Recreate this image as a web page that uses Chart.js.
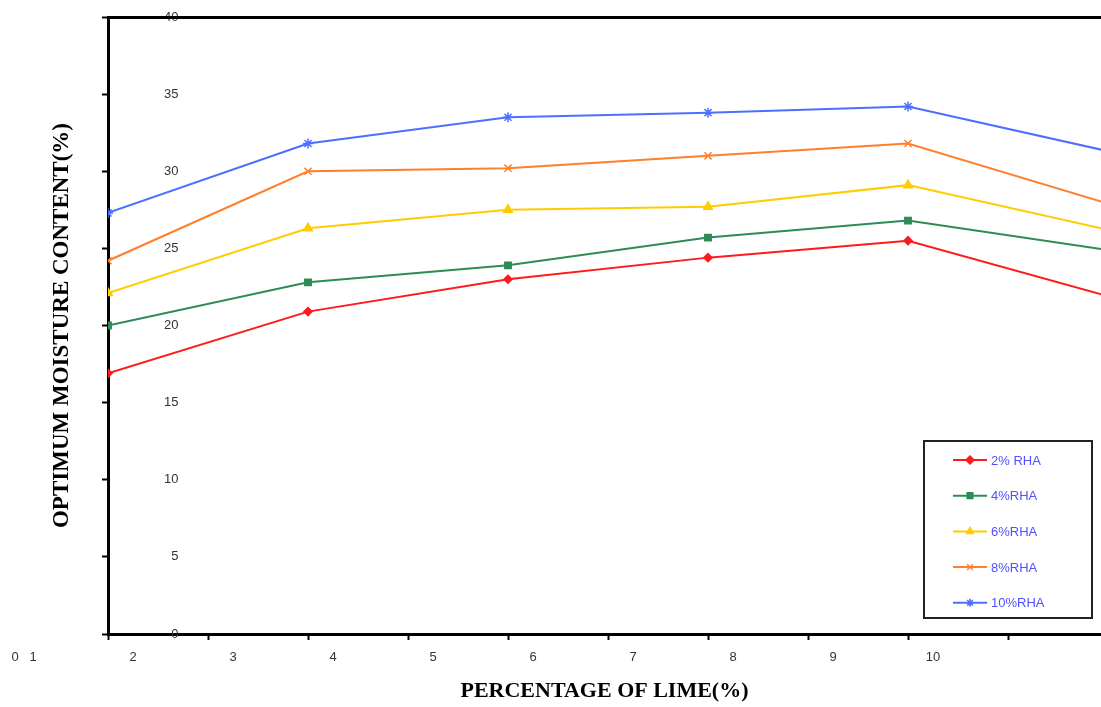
<!DOCTYPE html>
<html>
<head>
<meta charset="utf-8">
<title>Optimum moisture content vs percentage of lime</title>
<script src="https://cdn.jsdelivr.net/npm/chart.js@4.4.1/dist/chart.umd.min.js"></script>
<style>
  html, body { margin: 0; padding: 0; background: #fff; overflow: hidden; }
  canvas { display: block; }
</style>
</head>
<body>
<canvas id="omcChart" width="1101" height="707"></canvas>
<script>
// x positions of the measured points (lime content steps)
const limePct = [0, 2, 4, 6, 8, 10];
// tick labels as printed under the axis (shifted in the source figure)
const xTickLabels = ['2', '3', '4', '5', '6', '7', '8', '9', '10', ''];
const strayLabels = ['0', '1'];

// optimum moisture content (%) per rice husk ash dosage
const rha2 = [16.9, 20.9, 23.0, 24.4, 25.5, 21.9];
const rha4 = [20.0, 22.8, 23.9, 25.7, 26.8, 24.9];
const rha6 = [22.1, 26.3, 27.5, 27.7, 29.1, 26.2];
const rha8 = [24.2, 30.0, 30.2, 31.0, 31.8, 27.9];
const rha10 = [27.3, 31.8, 33.5, 33.8, 34.2, 31.3];
const seriesLabels = ['2% RHA', '4%RHA', '6%RHA', '8%RHA', '10%RHA'];

const SANS = '"Liberation Sans", Arial, sans-serif';
const SERIF = '"Liberation Serif", "Times New Roman", serif';
const TICK_COLOR = '#333';

Chart.defaults.font.family = SANS;

const seriesStyles = [
  { color: '#ff1a1a', pointStyle: 'rectRot', radius: 4 },
  { color: '#2e8b57', pointStyle: 'rect', radius: 4.5 },
  { color: '#ffcc00', pointStyle: 'triangle', radius: 5 },
  { color: '#ff7f2a', pointStyle: 'crossRot', radius: 5 },
  { color: '#4d6fff', pointStyle: 'star', radius: 5 },
];

const toPoints = (vals) => limePct.map((x, i) => ({ x, y: vals[i] }));

const datasets = [rha2, rha4, rha6, rha8, rha10].map((vals, i) => ({
  label: seriesLabels[i],
  data: toPoints(vals),
  borderColor: seriesStyles[i].color,
  backgroundColor: seriesStyles[i].color,
  borderWidth: 2,
  pointStyle: seriesStyles[i].pointStyle,
  pointRadius: seriesStyles[i].radius,
  pointBorderWidth: 1.5,
  pointBackgroundColor: seriesStyles[i].color,
  pointBorderColor: seriesStyles[i].color,
  tension: 0,
}));

// top frame line, the stray "0 1" labels and the boxed legend
const frameAndLegend = {
  id: 'frameAndLegend',
  afterDraw(chart) {
    const { ctx, chartArea: a } = chart;
    ctx.save();
    ctx.strokeStyle = '#000';
    ctx.lineWidth = 3;
    ctx.beginPath();
    ctx.moveTo(a.left, a.top + 0.5);
    ctx.lineTo(a.right, a.top + 0.5);
    ctx.stroke();

    ctx.fillStyle = TICK_COLOR;
    ctx.font = '13px ' + SANS;
    ctx.textAlign = 'center';
    ctx.textBaseline = 'middle';
    strayLabels.forEach((t, i) => ctx.fillText(t, 15 + i * 18, 657));

    const box = { x: 924, y: 441, w: 168, h: 177 };
    ctx.fillStyle = '#fff';
    ctx.fillRect(box.x, box.y, box.w, box.h);
    ctx.strokeStyle = '#222';
    ctx.lineWidth = 2;
    ctx.strokeRect(box.x, box.y, box.w, box.h);

    ctx.textAlign = 'left';
    chart.data.datasets.forEach((ds, i) => {
      const y = 460 + i * 35.7;
      ctx.strokeStyle = ds.borderColor;
      ctx.fillStyle = ds.borderColor;
      ctx.lineWidth = 2;
      ctx.beginPath();
      ctx.moveTo(953, y);
      ctx.lineTo(987, y);
      ctx.stroke();
      ctx.lineWidth = 1.5;
      Chart.helpers.drawPoint(ctx, {
        pointStyle: ds.pointStyle,
        radius: Math.min(ds.pointRadius, 4),
        borderWidth: 1.5,
        rotation: 0,
      }, 970, y);
      ctx.fillStyle = '#5050ff';
      ctx.font = '13px ' + SANS;
      ctx.fillText(ds.label, 991, y + 1);
    });
    ctx.restore();
  },
};

new Chart(document.getElementById('omcChart'), {
  type: 'line',
  data: { datasets },
  options: {
    responsive: false,
    animation: false,
    layout: { autoPadding: false, padding: { top: 17, left: 0, right: 0, bottom: 0 } },
    plugins: {
      legend: { display: false },
      tooltip: { enabled: false },
    },
    scales: {
      x: {
        type: 'linear',
        position: 'bottom',
        min: 0,
        max: 9.93,
        grid: { drawOnChartArea: false, tickLength: 6, tickWidth: 2, tickColor: '#000' },
        border: { color: '#000', width: 3 },
        ticks: {
          stepSize: 1,
          includeBounds: false,
          autoSkip: false,
          maxRotation: 0,
          labelOffset: 25,
          padding: 10,
          color: TICK_COLOR,
          font: { size: 13 },
          callback: (v) => xTickLabels[v] ?? '',
        },
        title: {
          display: true,
          text: 'PERCENTAGE OF LIME(%)',
          color: '#000',
          font: { family: SERIF, size: 22, weight: 'bold' },
          padding: { top: 0, bottom: 2 },
        },
        afterFit(s) {
          s.height = 73;
          s.paddingLeft = 0;
          s.paddingRight = 0;
        },
      },
      y: {
        position: 'left',
        min: 0,
        max: 40,
        grid: { drawOnChartArea: false, tickLength: 6, tickWidth: 2, tickColor: '#000' },
        border: { color: '#000', width: 3 },
        ticks: {
          stepSize: 5,
          mirror: true,
          crossAlign: 'far',
          padding: 56,
          color: TICK_COLOR,
          font: { size: 13 },
        },
        title: {
          display: true,
          text: 'OPTIMUM MOISTURE CONTENT(%)',
          color: '#000',
          font: { family: SERIF, size: 23, weight: 'bold' },
          padding: { top: 48, bottom: 0 },
        },
        afterFit(s) {
          s.width = 108;
          s.paddingTop = 0;
          s.paddingBottom = 0;
        },
      },
    },
  },
  plugins: [frameAndLegend],
});
</script>
</body>
</html>
